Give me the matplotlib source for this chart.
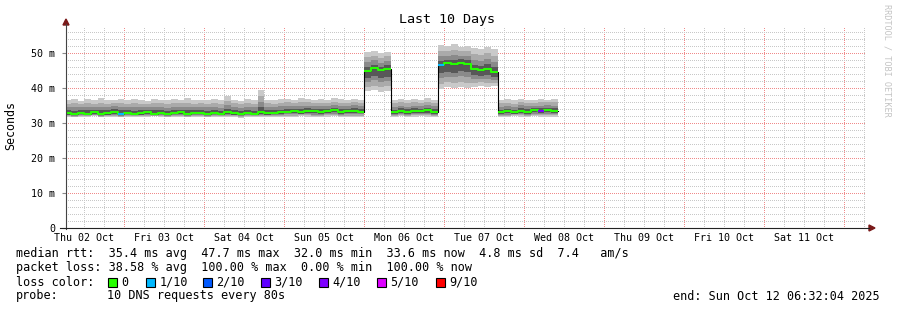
import matplotlib
matplotlib.use("Agg")
import matplotlib.pyplot as plt
from matplotlib.patches import Rectangle, Polygon
from matplotlib.lines import Line2D
import numpy as np
import pandas as pd

# smokeping data, 2 hour buckets from Thu 02 Oct 06:00
bucket_start = "2025-10-02 06:00"
bucket_hours = 2

median_ms = [
    32.8, 32.6, 32.9, 32.7, 33.0, 32.6, 32.8, 33.1, 32.7,
    32.9, 32.6, 32.8, 33.0, 32.7, 32.9, 32.6, 32.8, 33.0, 32.7, 32.8, 32.9,
    32.7, 32.9, 32.6, 33.0, 32.8, 32.5, 32.9, 32.7, 33.1, 32.8, 32.9, 33.0,
    33.2, 33.4, 33.1, 33.5, 33.3, 33.0, 33.4, 33.6, 33.2, 33.3, 33.5, 33.2,
    44.8, 45.6, 45.0, 45.4,
    33.0, 33.4, 33.2, 33.5, 33.3, 33.6, 33.2,
    46.5, 47.0, 46.8, 47.2, 46.9,
    45.3, 45.0, 45.5, 44.7,
    33.0, 33.3, 33.1, 33.5, 33.2, 33.6, 33.4, 33.7, 33.5,
]
smoke_hi_ms = [
    36.6, 36.9, 36.4, 36.8, 36.5, 37.0, 36.6, 36.7, 36.9,
    36.5, 36.8, 36.6, 36.4, 36.9, 36.7, 36.5, 36.8, 36.6, 37.0, 36.5, 36.7,
    36.6, 36.9, 36.5, 37.6, 36.7, 36.4, 36.8, 36.6, 39.4, 36.7, 36.5, 36.8,
    36.9, 36.7, 37.0, 36.8, 36.6, 36.9, 36.7, 37.1, 36.8, 36.6, 36.9, 36.7,
    50.3, 50.6, 50.0, 50.4,
    36.6, 36.9, 36.5, 36.8, 36.7, 37.0, 36.6,
    52.3, 52.0, 52.5, 51.8, 52.1,
    51.4, 51.2, 51.6, 51.0,
    36.6, 36.8, 36.5, 36.9, 36.7, 36.6, 36.9, 36.7, 36.8,
]
smoke_lo_ms = [
    31.7, 31.6, 31.8, 31.7, 31.9, 31.6, 31.7, 31.8, 31.6,
    31.7, 31.8, 31.6, 31.7, 31.9, 31.7, 31.6, 31.8, 31.7, 31.6, 31.8, 31.7,
    31.6, 31.7, 31.8, 31.6, 31.7, 31.5, 31.8, 31.7, 31.6, 31.7, 31.8, 31.6,
    31.8, 31.7, 31.9, 31.8, 31.7, 31.6, 31.8, 31.9, 31.7, 31.8, 31.7, 31.8,
    39.0, 39.3, 38.8, 39.2,
    31.8, 31.9, 31.7, 31.8, 31.9, 31.8, 31.7,
    39.8, 40.2, 39.9, 40.3, 40.0,
    40.4, 40.6, 40.2, 40.5,
    31.8, 31.7, 31.9, 31.8, 31.7, 31.9, 31.8, 31.7, 31.8,
]
# buckets with some packet loss (index -> loss label)
loss_marks = {8: "1/10", 56: "1/10", 71: "4/10"}

loss_labels = ["0", "1/10", "2/10", "3/10", "4/10", "5/10", "9/10"]
loss_colors = ["#26ff00", "#00b8ff", "#0059ff", "#5e00ff", "#7e00ff", "#dd00ff", "#ff0000"]

view_start = pd.Timestamp("2025-10-02 06:32:04")
view_end = pd.Timestamp("2025-10-12 06:32:04")

title = "Last 10 Days"
stats_rtt = "median rtt:  35.4 ms avg  47.7 ms max  32.0 ms min  33.6 ms now  4.8 ms sd  7.4   am/s"
stats_loss = "packet loss: 38.58 % avg  100.00 % max  0.00 % min  100.00 % now"
probe_text = "10 DNS requests every 80s"
end_text = "end: Sun Oct 12 06:32:04 2025"

W, H = 897, 310
MONO = "DejaVu Sans Mono"


def fx(x):
    return x / W


def fy(y):
    return 1 - y / H


fig = plt.figure(figsize=(W / 100, H / 100), dpi=100)
fig.patch.set_facecolor("white")
ax = fig.add_axes([fx(66), fy(228), 800 / W, 202 / H])

n = len(median_ms)
times = pd.date_range(bucket_start, periods=n + 1, freq=f"{bucket_hours}h")
med = np.array(median_ms)
hi = np.array(smoke_hi_ms)
lo = np.array(smoke_lo_ms)
med_ext = np.append(med, med[-1])

# smoke, light outside -> dark near median
up_frac = [1.0, 0.72, 0.45, 0.22]
dn_frac = [1.0, 0.78, 0.55, 0.35]
shades = ["#c9c9c9", "#aaaaaa", "#8a8a8a", "#585858"]
for fu, fd, col in zip(up_frac, dn_frac, shades):
    top = med + (hi - med) * fu
    bot = med - (med - lo) * fd
    ax.fill_between(times, np.append(bot, bot[-1]), np.append(top, top[-1]),
                    step="post", color=col, lw=0, zorder=2)

# median: black step line, green per level segment
ax.step(times, med_ext, where="post", color="black", lw=0.8, zorder=3)
breaks = [0] + [i + 1 for i in range(n - 1) if abs(med[i + 1] - med[i]) > 5] + [n]
for a, b in zip(breaks[:-1], breaks[1:]):
    ax.step(times[a:b + 1], np.append(med[a:b], med[b - 1]), where="post",
            color=loss_colors[0], lw=1.5, zorder=4, solid_capstyle="butt")
for i, lab in loss_marks.items():
    ax.hlines(med[i], times[i], times[i + 1], color=loss_colors[loss_labels.index(lab)],
              lw=1.5, zorder=5)

ax.set_xlim(view_start, view_end)
ax.set_ylim(0, 57.7)

# grid
midnights = pd.date_range("2025-10-03", "2025-10-12", freq="1D")
six_h = pd.date_range("2025-10-02 12:00", "2025-10-12 06:00", freq="6h")
ax.set_xticks(midnights)
ax.set_xticks(six_h, minor=True)
ax.set_yticks(np.arange(0, 51, 10))
ax.set_yticks(np.arange(0, 58, 2), minor=True)
ax.grid(which="minor", color="#c8c8c8", lw=0.72, ls=(0, (1, 2)), antialiased=False)
ax.grid(which="major", color="#f08a8a", lw=0.72, ls=(0, (1, 2)), antialiased=False)
ax.set_axisbelow(True)
ax.tick_params(axis="x", which="both", length=0, labelbottom=False)
ax.tick_params(axis="y", which="minor", length=0)
ax.tick_params(axis="y", which="major", length=3, color="#888888", pad=5, labelsize=7.2)
ax.set_yticklabels(["0" if v == 0 else f"{v} m" for v in range(0, 51, 10)], family=MONO)
for s in ax.spines.values():
    s.set_visible(False)

# day labels at noon
for d in pd.date_range("2025-10-02 12:00", "2025-10-11 12:00", freq="1D"):
    ax.text(d, -10 / 202, d.strftime("%a %d %b"), transform=ax.get_xaxis_transform(),
            ha="center", va="center", fontsize=7.2, family=MONO)

# axis lines with arrows
arrow_col = "#7a1a1a"
fig.add_artist(Line2D([fx(66), fx(66)], [fy(229), fy(24)], color="#444444", lw=0.8))
fig.add_artist(Line2D([fx(60), fx(869)], [fy(228), fy(228)], color="#222222", lw=0.8))
fig.add_artist(Polygon([(fx(63), fy(25)), (fx(69), fy(25)), (fx(66), fy(19))],
                       closed=True, color=arrow_col))
fig.add_artist(Polygon([(fx(869), fy(225)), (fx(869), fy(231)), (fx(875), fy(228))],
                       closed=True, color=arrow_col))

fig.text(fx(447), fy(19), title, ha="center", va="center", fontsize=9.6, family=MONO)
fig.text(fx(11), fy(126), "Seconds", rotation=90, ha="center", va="center",
         fontsize=8.4, family=MONO)
fig.text(fx(887), fy(4), "RRDTOOL / TOBI OETIKER", rotation=270, ha="center", va="top",
         fontsize=6.1, family=MONO, color="#c4c4c4")

# legend block
fs = 8.5
fig.text(fx(16), fy(254), stats_rtt, ha="left", va="center", fontsize=fs, family=MONO)
fig.text(fx(16), fy(268), stats_loss, ha="left", va="center", fontsize=fs, family=MONO)
fig.text(fx(16), fy(282), "loss color:", ha="left", va="center", fontsize=fs, family=MONO)
box_left = [108, 146, 203, 261, 319, 377, 436]
for bx, lab, col in zip(box_left, loss_labels, loss_colors):
    fig.add_artist(Rectangle((fx(bx), fy(286.5)), 9 / W, 9 / H, facecolor=col,
                             edgecolor="black", lw=0.8))
    fig.text(fx(bx + 13.5), fy(282), lab, ha="left", va="center", fontsize=fs, family=MONO)
fig.text(fx(16), fy(296), "probe:", ha="left", va="center", fontsize=fs, family=MONO)
fig.text(fx(107), fy(296), probe_text, ha="left", va="center", fontsize=fs, family=MONO)
fig.text(fx(880), fy(296), end_text, ha="right", va="center", fontsize=fs, family=MONO)

fig.savefig("out.png", dpi=100)
plt.close(fig)
